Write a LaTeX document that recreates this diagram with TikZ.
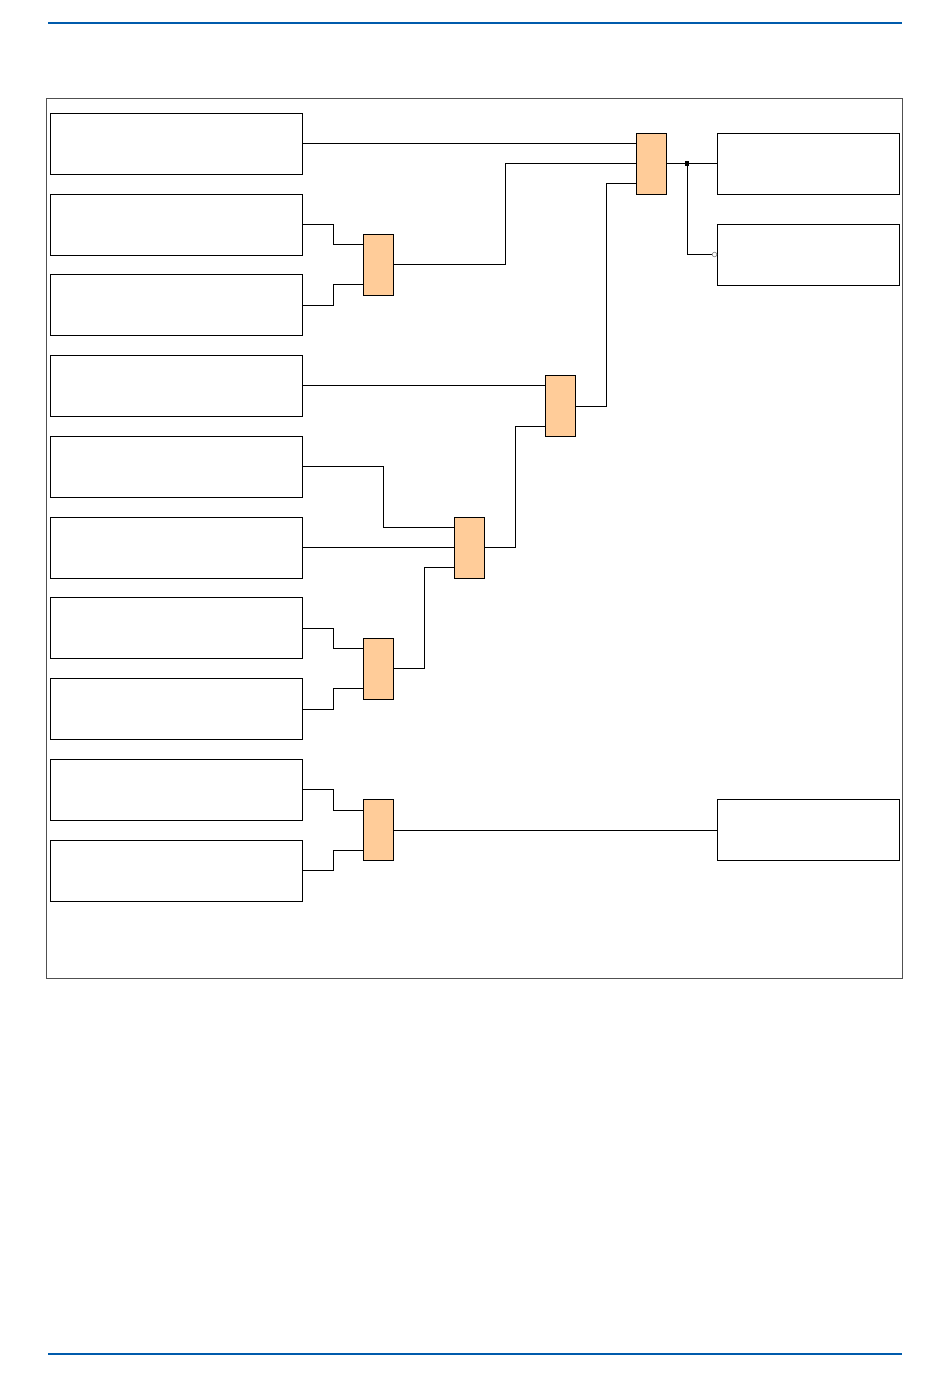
\documentclass[tikz,border=0pt]{standalone}
\usetikzlibrary{calc}
\definecolor{hdrblue}{RGB}{0,91,172}
\definecolor{gatefill}{RGB}{255,204,153}
\definecolor{framegray}{RGB}{80,80,80}
\begin{document}
\begin{tikzpicture}[x=1pt,y=-1pt,
  lbox/.style={draw=black,line width=0.9pt,fill=white,minimum width=252pt,minimum height=61pt,inner sep=0pt,outer sep=0pt},
  rbox/.style={draw=black,line width=0.9pt,fill=white,minimum width=182pt,minimum height=61pt,inner sep=0pt,outer sep=0pt},
  gate/.style={draw=black,line width=0.9pt,fill=gatefill,minimum width=30pt,minimum height=61pt,inner sep=0pt,outer sep=0pt},
  wire/.style={draw=black,line width=0.9pt}]
\useasboundingbox (0,0) rectangle (950,1387);
% header / footer rules
\draw[hdrblue,line width=2pt] (48,22.5) coordinate (hl) -- (902,22.5) coordinate (hr);
\draw[hdrblue,line width=2pt] (48,1354) coordinate (fl) -- (902,1354) coordinate (fr);
% frame
\draw[framegray,line width=1pt] (46.5,98.5) coordinate (fa) rectangle (902,978) coordinate (fb);
% left boxes
\node[lbox] (b1) at (176,143.5) {};
\node[lbox] (b2) at (176,224.5) {};
\node[lbox] (b3) at (176,305) {};
\node[lbox] (b4) at (176,385.5) {};
\node[lbox] (b5) at (176,466.5) {};
\node[lbox] (b6) at (176,547.5) {};
\node[lbox] (b7) at (176,628) {};
\node[lbox] (b8) at (176,709) {};
\node[lbox] (b9) at (176,789.5) {};
\node[lbox] (b10) at (176,870.5) {};
% gates
\node[gate] (g1) at (651.5,163.5) {};
\node[gate] (g2) at (378,264.5) {};
\node[gate] (g3) at (560.5,406) {};
\node[gate] (g4) at (469.5,547.5) {};
\node[gate] (g5) at (378,668.5) {};
\node[gate] (g6) at (378,830) {};
% right boxes
\node[rbox] (r1) at (808,163.5) {};
\node[rbox] (r2) at (808,254.5) {};
\node[rbox] (r3) at (808,830) {};
% wires
\draw[wire] (b1.east) -- (b1.east -| g1.west);
\draw[wire] (b2.east) -- ++(31,0) |- ([yshift=20pt]g2.west);
\draw[wire] (b3.east) -- ++(31,0) |- ([yshift=-20pt]g2.west);
\draw[wire] (g2.east) -- (505,264.5) |- (g1.west);
\draw[wire] (b4.east) -- (b4.east -| g3.west);
\draw[wire] (b5.east) -- (383.5,466.5) |- ([yshift=20pt]g4.west);
\draw[wire] (b6.east) -- (g4.west);
\draw[wire] (b7.east) -- ++(31,0) |- ([yshift=20pt]g5.west);
\draw[wire] (b8.east) -- ++(31,0) |- ([yshift=-20pt]g5.west);
\draw[wire] (g5.east) -- (424,668.5) |- ([yshift=-20pt]g4.west);
\draw[wire] (g4.east) -- (515,547.5) |- ([yshift=-20pt]g3.west);
\draw[wire] (g3.east) -- (606,406) |- ([yshift=-20pt]g1.west);
\draw[wire] (b9.east) -- ++(31,0) |- ([yshift=20pt]g6.west);
\draw[wire] (b10.east) -- ++(31,0) |- ([yshift=-20pt]g6.west);
\draw[wire] (g6.east) -- (r3.west);
% output branch
\coordinate (j) at (687,163.5);
\draw[wire] (g1.east) -- (r1.west);
\coordinate (inv) at (714.5,254.5);
\draw[wire] (j) |- (inv);
\fill[black] ($(j)+(-2.2,-2.2)$) rectangle ($(j)+(2.2,2.2)$);
\draw[gray,line width=0.6pt,fill=white] (inv) circle (2.3);
\end{tikzpicture}
\end{document}
